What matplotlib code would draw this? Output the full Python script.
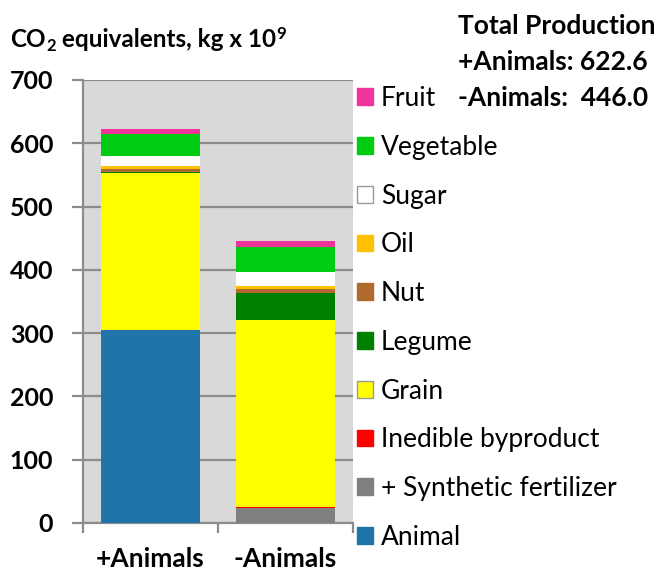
import matplotlib
matplotlib.use('Agg')
import matplotlib.pyplot as plt
from matplotlib.patches import Patch

plt.rcParams['font.family'] = ['Lato', 'DejaVu Sans']

scenarios = ['+Animals', '-Animals']
categories = ['Animal', '+ Synthetic fertilizer', 'Inedible byproduct', 'Grain', 'Legume',
              'Nut', 'Oil', 'Sugar', 'Vegetable', 'Fruit']
colors = ['#1f74aa', '#808080', '#ff0000', '#ffff00', '#008000',
          '#b0692e', '#ffc000', '#ffffff', '#00cc11', '#ef349b']

# CO2 equivalents, kg x 10^9, one value per scenario
animal = [304.5, 0]
synthetic = [0, 23.0]
inedible = [0, 1.5]
grain = [248.0, 295.5]
legume = [1.5, 44.0]
nut = [6.0, 6.5]
oil = [3.5, 3.5]
sugar = [17.0, 22.0]
vegetable = [34.0, 40.0]
fruit = [8.1, 10.0]
series = [animal, synthetic, inedible, grain, legume, nut, oil, sugar, vegetable, fruit]

totals = [622.6, 446.0]

fig = plt.figure(figsize=(6.64, 5.71), dpi=100)
ax = fig.add_axes([0.125, 0.0841, 0.4066, 0.7758])
ax.set_facecolor('#d9d9d9')

x = [0.5, 1.5]
bottom = [0, 0]
for vals, c, name in zip(series, colors, categories):
    ax.bar(x, vals, width=0.74, bottom=bottom, color=c, label=name, zorder=3)
    bottom = [b + v for b, v in zip(bottom, vals)]

ax.set_xlim(0, 2)
ax.set_ylim(0, 700)
ax.set_yticks(range(0, 701, 100))
ax.grid(axis='y', color='#8c8c8c', linewidth=1.6, zorder=1)
ax.set_axisbelow(True)

ax.set_xticks([0.5, 1.5])
ax.set_xticklabels(scenarios, fontsize=19, fontweight='bold')
ax.tick_params(axis='x', length=0, pad=17)
ax.set_xticks([0, 1, 2], minor=True)
ax.tick_params(axis='x', which='minor', length=7, width=1.6, color='#8c8c8c')
ax.tick_params(axis='y', length=8, width=1.6, color='#8c8c8c', labelsize=18, pad=13.5)
for lab in ax.get_yticklabels():
    lab.set_fontweight('bold')

for side in ['top', 'right']:
    ax.spines[side].set_visible(False)
for side in ['left', 'bottom']:
    ax.spines[side].set_color('#8c8c8c')
    ax.spines[side].set_linewidth(1.6)

handles = []
for c, name in zip(colors, categories):
    ec = '#999999' if c in ('#ffffff', '#ffff00') else c
    handles.append(Patch(facecolor=c, edgecolor=ec, label=name))
leg = ax.legend(handles=handles[::-1], loc='center left', bbox_to_anchor=(1.015, 0.463),
                frameon=False, fontsize=19, handlelength=0.6, handleheight=0.6,
                handletextpad=0.3, labelspacing=0.9, borderaxespad=0, borderpad=0)

# y-axis title built from pieces so that the sub/superscript stay bold
t1 = fig.text(0.015, 0.918, 'CO', fontsize=17.5, fontweight='bold', va='baseline')
t2 = ax.annotate('2', xy=(1, 0), xycoords=t1, xytext=(0.5, -2.5), textcoords='offset points',
                 fontsize=12, fontweight='bold', va='bottom', annotation_clip=False)
t3 = ax.annotate(' equivalents, kg x 10', xy=(1, 0), xycoords=t2, xytext=(0, 2.5),
                 textcoords='offset points', fontsize=17.5, fontweight='bold', va='bottom',
                 annotation_clip=False)
ax.annotate('9', xy=(1, 1), xycoords=t3, xytext=(0.5, 1), textcoords='offset points',
            fontsize=12, fontweight='bold', va='top', annotation_clip=False)

fig.text(0.69, 0.975, 'Total Production\n+Animals: %.1f\n-Animals:  %.1f' % tuple(totals),
         fontsize=19, fontweight='bold', va='top', linespacing=1.6)

fig.savefig('out.png', dpi=100)
